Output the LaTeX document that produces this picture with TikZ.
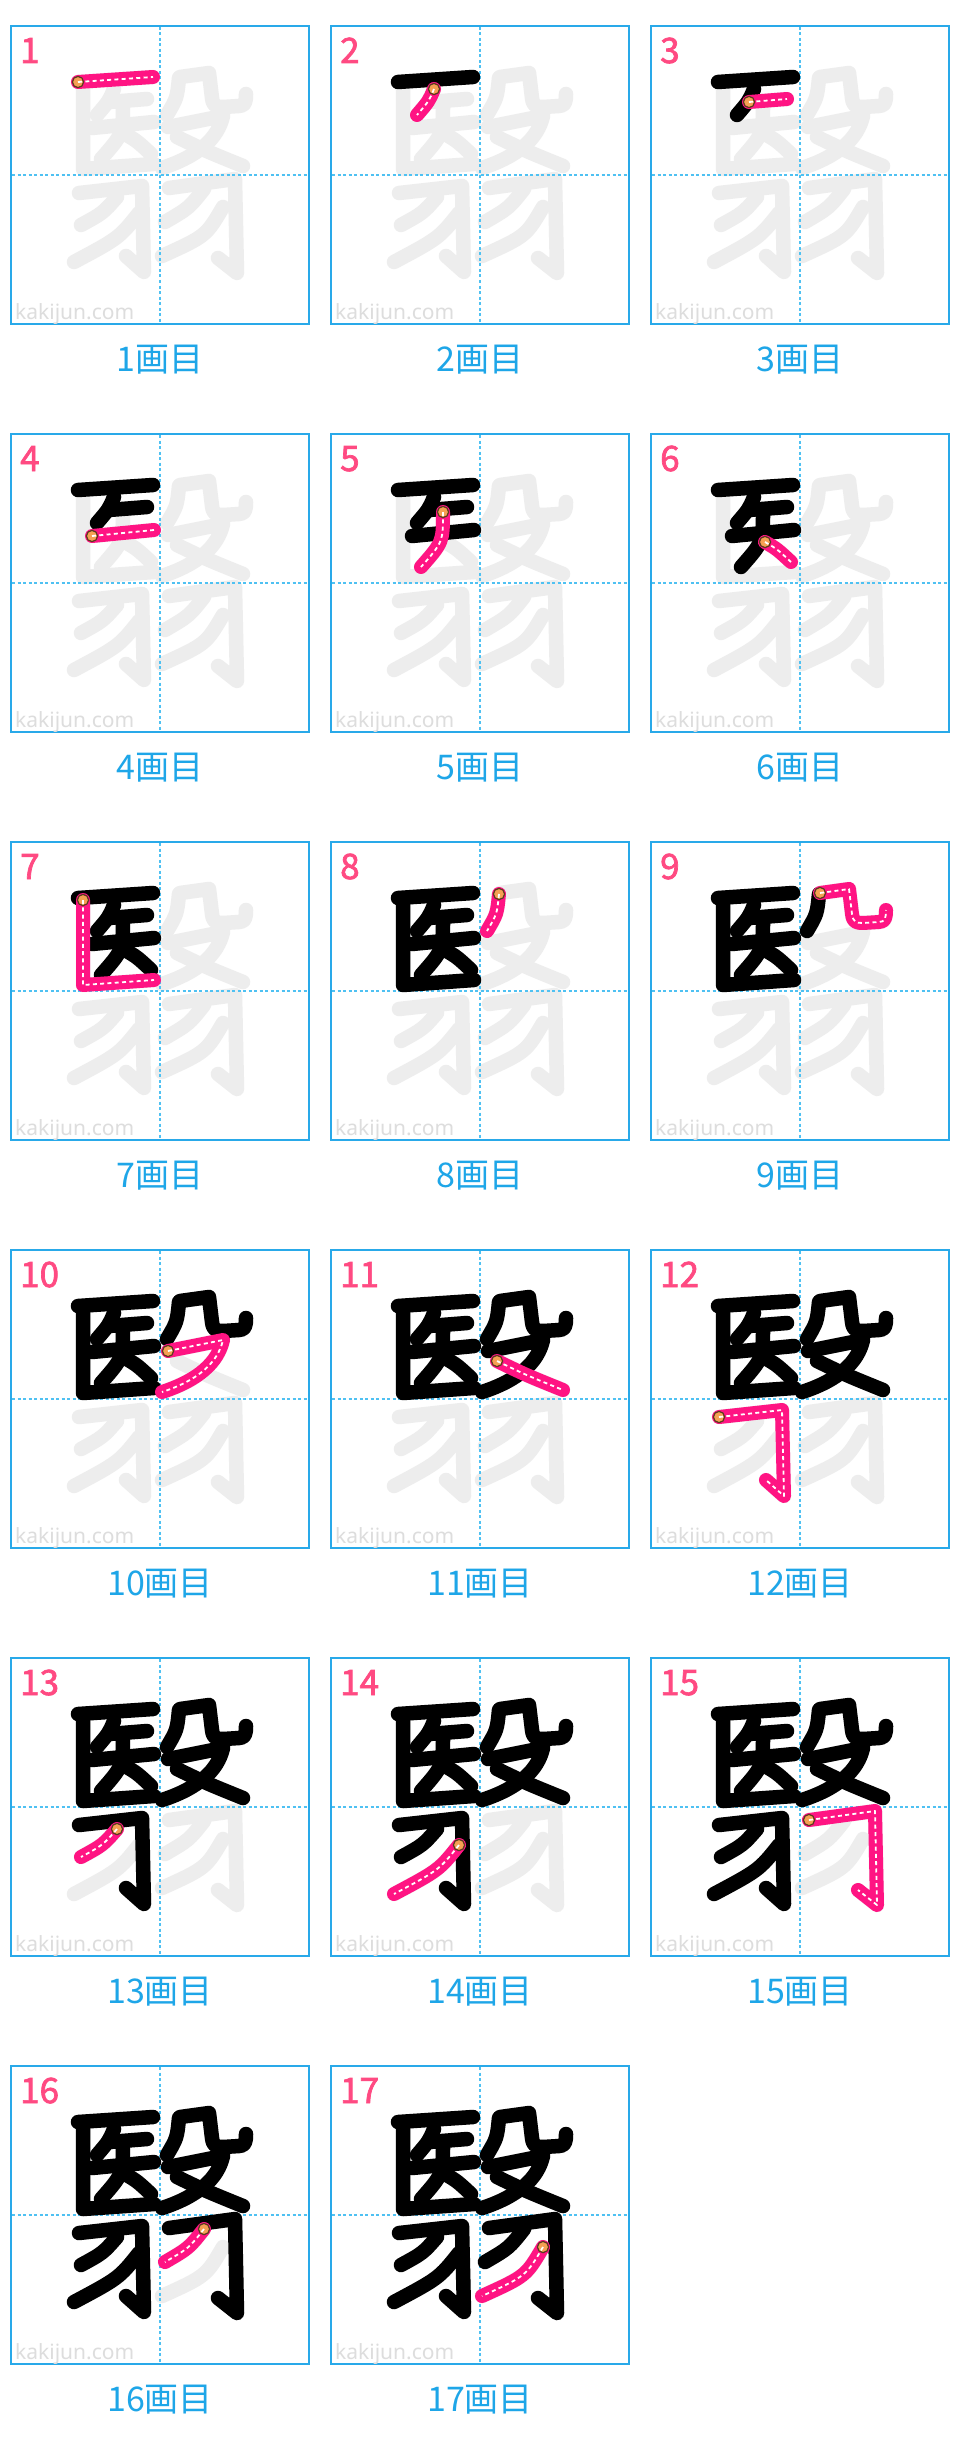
\documentclass[tikz,border=0pt]{standalone}
\usepackage{fontspec}
\newfontfamily\jpfont{Noto Sans CJK JP}
\newfontfamily\numfont{Noto Sans CJK JP}[FakeBold=2]
\newfontfamily\wmfont{Noto Sans}
\definecolor{cellblue}{HTML}{29A9E9}
\definecolor{dashblue}{HTML}{4FC1F2}
\definecolor{labelblue}{HTML}{1EA6E8}
\definecolor{numred}{HTML}{FF4A82}
\definecolor{strokepink}{HTML}{FF1483}
\definecolor{ghost}{HTML}{EDEDED}
\definecolor{wmgray}{HTML}{DDDDDD}
\definecolor{dotfill}{HTML}{F5A052}
\definecolor{dotedge}{HTML}{5A3A1E}
\newcommand\defstroke[3]{%
  \expandafter\def\csname st#1\endcsname{#2}%
  \expandafter\def\csname stk#1\endcsname{#3}}
\defstroke{1}{(67,56)}{-- (142,51)}
\defstroke{2}{(103,63)}{.. controls (98,75) .. (86,89)}
\defstroke{3}{(98,76)}{-- (136,73)}
\defstroke{4}{(81,102)}{-- (143,96)}
\defstroke{5}{(112,78)}{.. controls (112,108) .. (90,133)}
\defstroke{6}{(114,108)}{.. controls (126,115) .. (140,128)}
\defstroke{7}{(72,58)}{-- (72,143) -- (143,138)}
\defstroke{8}{(168,52)}{.. controls (166,72) .. (156,89)}
\defstroke{9}{(169,51)}{-- (198,47) -- (201,72) .. controls (202,80) and (205,81) .. (212,81) -- (228,80) .. controls (234,80) and (235,76) .. (235,68)}
\defstroke{10}{(157,101)}{-- (212,90) .. controls (207,112) and (188,130) .. (151,142)}
\defstroke{11}{(166,111)}{.. controls (195,125) .. (232,140)}
\defstroke{12}{(68,167)}{-- (131,160) -- (133,246) -- (115,230)}
\defstroke{13}{(106,171)}{.. controls (92,187) .. (70,199)}
\defstroke{14}{(128,187)}{.. controls (108,212) .. (63,236)}
\defstroke{15}{(158,162)}{-- (224,153) -- (226,247) -- (207,232)}
\defstroke{16}{(193,163)}{.. controls (178,182) .. (154,196)}
\defstroke{17}{(212,181)}{.. controls (195,210) .. (151,230)}
\begin{document}
\begin{tikzpicture}[x=1pt,y=-1pt,
  cellframe/.style={draw=cellblue,line width=1.6pt,fill=white},
  guide/.style={draw=dashblue,line width=1.5pt,dash pattern=on 3pt off 2.5pt},
  ghoststroke/.style={draw=ghost,line width=14.5pt,line cap=round,line join=round},
  blackstroke/.style={draw=black,line width=14.5pt,line cap=round,line join=round},
  pinkstroke/.style={draw=strokepink,line width=14pt,line cap=round,line join=round},
  whitedash/.style={draw=white,line width=1.8pt,dash pattern=on 4pt off 3.3pt,line join=round},
  startdot/.style={fill=dotfill,draw=dotedge,line width=1.2pt},
  wmark/.style={text=wmgray,font=\wmfont\fontsize{21}{21}\selectfont,inner sep=0pt,anchor=base west},
  numlabel/.style={text=numred,font=\numfont\fontsize{35}{35}\selectfont,inner sep=0pt,anchor=base west},
  steplabel/.style={text=labelblue,font=\jpfont\fontsize{34}{34}\selectfont,inner sep=0pt,anchor=base}]
\useasboundingbox[fill=white] (0,0) rectangle (960,2448);
\foreach \k in {1,...,17}{
  \pgfmathtruncatemacro\col{mod(\k-1,3)}
  \pgfmathtruncatemacro\row{(\k-1)/3}
  \pgfmathtruncatemacro\cx{11+320*\col}
  \pgfmathtruncatemacro\cy{26+408*\row}
  \pgfmathtruncatemacro\km{\k-1}
  \begin{scope}[shift={(\cx,\cy)}]
    \path[cellframe] (0,0) rectangle (298,298);
    \node[wmark] (wm\k) at (4,293) {kakijun.com};
    \foreach \s in {1,...,17}{
      \draw[ghoststroke] \csname st\s\endcsname \csname stk\s\endcsname;
    }
    \draw[guide] (149,1) -- (149,297);
    \draw[guide] (1,149) -- (297,149);
    \ifnum\k>1
      \foreach \s in {1,...,\km}{
        \draw[blackstroke] \csname st\s\endcsname \csname stk\s\endcsname;
      }
    \fi
    \draw[pinkstroke] \csname st\k\endcsname \csname stk\k\endcsname;
    \path[startdot] \csname st\k\endcsname circle (5.6);
    \draw[whitedash] \csname st\k\endcsname \csname stk\k\endcsname;
    \node[numlabel] (num\k) at (9,37) {\k};
    \node[steplabel] (lab\k) at (149,345) {{\k}画目};
  \end{scope}
}
\end{tikzpicture}
\end{document}
